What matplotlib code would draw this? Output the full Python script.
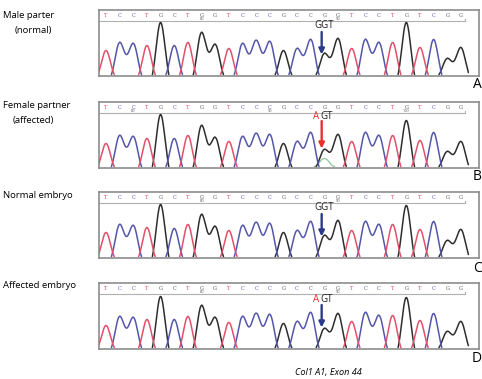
import numpy as np
import matplotlib.pyplot as plt

plt.rcParams['font.family'] = ['Open Sans', 'DejaVu Sans']

W, H = 482, 379

# base calls shared by all four reads
bases = list("TCCTGCTGGTCCCGCCGGTCCTGTCGG")

# peak heights (px above baseline) per base
peaks_A = [24, 32, 31, 29, 52, 29, 32, 42, 30, 26, 31, 34, 33, 24, 26, 35, 21, 36, 26, 35, 32, 32, 52, 27, 35, 16, 27]
peaks_B = [23, 31, 30, 28, 52, 28, 31, 41, 29, 25, 30, 33, 32, 23, 25, 34, 17, 32, 25, 34, 31, 31, 46, 26, 34, 15, 25]
peaks_C = [24, 32, 31, 29, 52, 28, 32, 42, 30, 26, 31, 34, 33, 24, 26, 35, 21, 36, 26, 35, 32, 32, 51, 27, 35, 16, 27]
peaks_D = [22, 31, 30, 28, 51, 28, 31, 42, 30, 25, 31, 34, 33, 24, 26, 35, 19, 34, 26, 35, 32, 32, 50, 27, 34, 16, 26]

# small green (A) peak under the mutation in the female partner
green_pos_B = [17]
green_h_B = [8]

# position numbers printed under the base row
num_pos_A = [8, 18]
num_txt_A = ["80", "90"]
num_pos_B = [3, 13, 23]
num_txt_B = ["80", "90", "100"]

mut_pos = 17

row_labels = [["Male parter", "(normal)"], ["Female partner", "(affected)"],
              ["Normal embryo"], ["Affected embryo"]]
panel_letters = ["A", "B", "C", "D"]
calls = ["GGT", "AGT", "GGT", "AGT"]

box_tops = [10, 102, 192, 283]
box_h = 66
box_left, box_right = 99, 479

col = {"T": "#e2506a", "C": "#5456aa", "G": "#2e2e2e", "A": "#8cc89a"}
txt_col = {"T": "#e2506a", "C": "#5456aa", "G": "#555555"}

S = 0.33   # peak width (in base spacings)
WD = 0.6   # where a peak meets a different-colour neighbour at baseline


def steep(d):
    g = np.exp(-d ** 2 / (2 * S * S))
    g0 = np.exp(-WD ** 2 / (2 * S * S))
    return np.clip((g - g0) / (1 - g0), 0, None) * (d < WD)


def soft(d):
    return np.exp(-d ** 2 / (2 * S * S)) * (d <= 1.0)


def draw_trace(ax, heights, gpos=None, gh=None):
    xs = np.linspace(0.45, 27.55, 2200)
    n = len(bases)
    for b in ["G", "C", "T"]:
        y = np.zeros_like(xs)
        for i in range(n):
            if bases[i] != b:
                continue
            d = xs - (i + 1)
            left_same = i > 0 and bases[i - 1] == b
            right_same = i < n - 1 and bases[i + 1] == b
            kl = soft(-d) if left_same else steep(-d)
            kr = soft(d) if right_same else steep(d)
            y += heights[i] * np.where(d < 0, kl, kr)
        on = y > 0.02
        on = on | np.roll(on, 1) | np.roll(on, -1)
        ax.plot(xs, np.where(on, y, np.nan), color=col[b], lw=1.1,
                zorder=3 if b != "G" else 2, solid_capstyle="round")
    if gpos:
        for p, h in zip(gpos, gh):
            d = xs - p
            m = np.abs(d) < 0.75
            ax.plot(xs[m], h * np.cos(np.pi * d[m] / 1.5) ** 2, color=col["A"],
                    lw=0.9, zorder=1)


fig = plt.figure(figsize=(W / 100, H / 100), dpi=100)

xl = 1 - (106 - box_left) / 13.65
xr = 1 + (box_right - 106) / 13.65

all_peaks = [peaks_A, peaks_B, peaks_C, peaks_D]
for k in range(4):
    top = box_tops[k]
    ax = fig.add_axes([box_left / W, 1 - (top + box_h) / H,
                       (box_right - box_left) / W, box_h / H])
    ax.set_xlim(xl, xr)
    ax.set_ylim(-1.5, box_h - 1.5)
    ax.set_xticks([])
    ax.set_yticks([])
    for sp in ax.spines.values():
        sp.set_color("#8c8c8c")
        sp.set_linewidth(1.2)

    ytop = box_h - 1.5
    # base call row
    for i, b in enumerate(bases):
        ax.text(i + 1, ytop - 5.5, b, color=txt_col[b], fontsize=3.6,
                ha="center", va="center", family="DejaVu Serif")
    npos = num_pos_B if k == 1 else num_pos_A
    ntxt = num_txt_B if k == 1 else num_txt_A
    for p, t in zip(npos, ntxt):
        ax.text(p, ytop - 8.7, t, color="#555555", fontsize=2.8,
                ha="center", va="center")
    ax.plot([xl, 27.3], [ytop - 11, ytop - 11], color="#b0b0b0", lw=0.8)
    ax.plot([27.3, 27.3], [ytop - 11, ytop - 9], color="#b0b0b0", lw=0.8)

    if k == 1:
        draw_trace(ax, all_peaks[k], green_pos_B, green_h_B)
    else:
        draw_trace(ax, all_peaks[k])

    # mutation arrow and codon call
    acol = "#e8312f" if k == 1 else "#2b3a8c"
    y0, y1 = (ytop - 19, 18) if k == 1 else (ytop - 22, 20)
    ax.annotate("", xy=(mut_pos - 0.2, y1), xytext=(mut_pos - 0.2, y0),
                arrowprops=dict(arrowstyle="-|>", color=acol, lw=1.7,
                                mutation_scale=8, shrinkA=0, shrinkB=0),
                zorder=5)
    ty = ytop - 14.5 if k == 1 else ytop - 16
    c = calls[k]
    if c.startswith("A"):
        ax.text(mut_pos - 0.38, ty, "A", color="#e8312f", fontsize=7,
                ha="right", va="center", zorder=6)
        ax.text(mut_pos - 0.33, ty, "GT", color="#222222", fontsize=7,
                ha="left", va="center", zorder=6)
    else:
        ax.text(mut_pos, ty, c, color="#222222", fontsize=7,
                ha="center", va="center", zorder=6)

    # left labels
    lab = row_labels[k]
    ly = [15, 105, 195, 285][k]
    fig.text(3 / W, 1 - ly / H, lab[0], fontsize=6.8, ha="left", va="center")
    if len(lab) > 1:
        fig.text(33 / W, 1 - (ly + 16) / H, lab[1], fontsize=6.8,
                 ha="center", va="center")

    # panel letter
    fig.text(477 / W, 1 - [85, 177, 268, 359][k] / H, panel_letters[k],
             fontsize=10, ha="center", va="center")

fig.text(328 / W, 1 - 372 / H, "Col1 A1, Exon 44", fontsize=6.6,
         style="italic", ha="center", va="center")

fig.savefig("out.png", dpi=100)
